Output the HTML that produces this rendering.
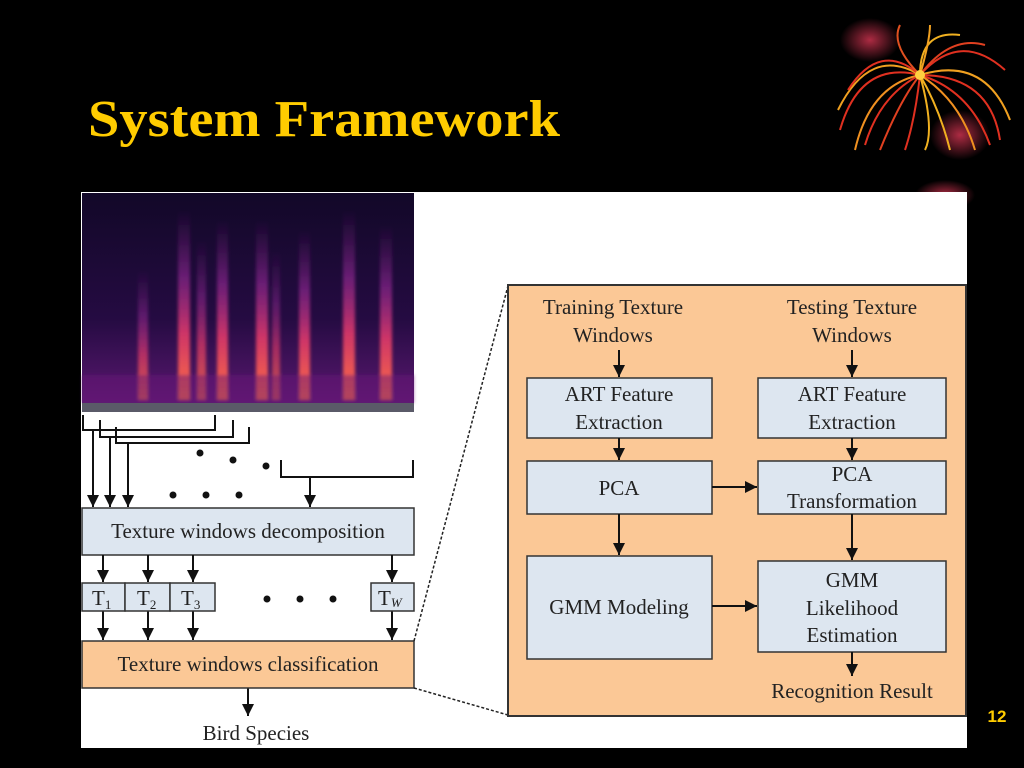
<!DOCTYPE html>
<html><head><meta charset="utf-8"><style>
html,body{margin:0;padding:0;background:#000;}
svg{display:block;}
text{font-family:"Liberation Serif",serif;fill:#222;}
</style></head><body>
<svg width="1024" height="768" viewBox="0 0 1024 768" xmlns="http://www.w3.org/2000/svg">
<defs>
<marker id="ah" viewBox="0 0 10 10" refX="10" refY="5" markerWidth="14" markerHeight="12" orient="auto" markerUnits="userSpaceOnUse">
<path d="M0,0 L10,5 L0,10 z" fill="#111"/></marker>
<radialGradient id="glow" cx="50%" cy="50%" r="50%"><stop offset="0" stop-color="#c0304a" stop-opacity="0.9"/><stop offset="1" stop-color="#c0304a" stop-opacity="0"/></radialGradient>
<linearGradient id="spec" x1="0" y1="0" x2="0" y2="1"><stop offset="0" stop-color="#120828"/><stop offset="0.6" stop-color="#250b42"/><stop offset="1" stop-color="#5a1870"/></linearGradient>
<linearGradient id="col" x1="0" y1="0" x2="0" y2="1"><stop offset="0" stop-color="#7a2080" stop-opacity="0"/><stop offset="0.35" stop-color="#9a2a9a" stop-opacity="0.6"/><stop offset="0.65" stop-color="#e03a6a" stop-opacity="0.9"/><stop offset="1" stop-color="#ff7040" stop-opacity="1"/></linearGradient>
<filter id="bl"><feGaussianBlur stdDeviation="1.5"/></filter>
</defs>
<rect width="1024" height="768" fill="#000"/>
<ellipse cx="870" cy="40" rx="30" ry="22" fill="url(#glow)"/>
<ellipse cx="960" cy="135" rx="30" ry="25" fill="url(#glow)"/>
<ellipse cx="945" cy="195" rx="30" ry="15" fill="url(#glow)"/>
<g fill="none" stroke-width="2">
<path d="M920,75 Q860,60 840,130" stroke="#e03020"/>
<path d="M920,75 Q870,45 838,110" stroke="#f0a020"/>
<path d="M920,75 Q880,40 848,90" stroke="#e03020"/>
<path d="M920,75 Q960,30 1005,70" stroke="#e03020"/>
<path d="M920,75 Q985,55 1010,120" stroke="#f0a020"/>
<path d="M920,75 Q990,75 1000,140" stroke="#e03020"/>
<path d="M920,75 Q900,100 880,150" stroke="#e04020"/>
<path d="M920,75 Q940,110 950,150" stroke="#f0b020"/>
<path d="M920,75 Q970,90 990,145" stroke="#e03020"/>
<path d="M920,75 Q960,100 975,150" stroke="#f09020"/>
<path d="M920,75 Q870,85 855,150" stroke="#f09020"/>
<path d="M920,75 Q880,95 865,145" stroke="#e03020"/>
<path d="M920,75 Q920,30 960,35" stroke="#f0b020"/>
<path d="M920,75 Q890,45 900,25" stroke="#e05020"/>
<path d="M920,75 Q915,120 905,150" stroke="#e03020"/>
<path d="M920,75 Q930,40 930,25" stroke="#f0a020"/>
<path d="M920,75 Q950,35 985,45" stroke="#e04020"/>
<path d="M920,75 Q935,130 925,150" stroke="#f0b020"/>
</g>
<circle cx="920" cy="75" r="5" fill="#ffd040"/>
<text x="88" y="136" font-size="52" font-weight="bold" style="fill:#ffcc00" textLength="472" lengthAdjust="spacingAndGlyphs">System Framework</text>
<rect x="81" y="192" width="886" height="556" fill="#fff"/>
<rect x="82" y="193" width="332" height="210" fill="url(#spec)"/>
<g filter="url(#bl)">
<rect x="138" y="270" width="10" height="130" fill="url(#col)" opacity="0.8"/>
<rect x="178" y="210" width="12" height="190" fill="url(#col)"/>
<rect x="197" y="240" width="9" height="160" fill="url(#col)" opacity="0.8"/>
<rect x="217" y="220" width="11" height="180" fill="url(#col)"/>
<rect x="256" y="220" width="12" height="180" fill="url(#col)"/>
<rect x="272" y="250" width="8" height="150" fill="url(#col)" opacity="0.7"/>
<rect x="299" y="230" width="11" height="170" fill="url(#col)"/>
<rect x="343" y="210" width="12" height="190" fill="url(#col)"/>
<rect x="380" y="225" width="12" height="175" fill="url(#col)"/>
<rect x="82" y="375" width="332" height="28" fill="#6a1a78" opacity="0.5"/>
</g>
<rect x="82" y="403" width="332" height="9" fill="#5a5a68"/>
<g stroke="#111" stroke-width="2" fill="none">
<path d="M83,415 V430 H215 V415"/>
<path d="M100,420 V437 H233 V420"/>
<path d="M116,427 V443 H249 V427"/>
<path d="M281,460 V477 H413 V460"/>
<line x1="93" y1="430" x2="93" y2="507" marker-end="url(#ah)"/>
<line x1="110" y1="437" x2="110" y2="507" marker-end="url(#ah)"/>
<line x1="128" y1="443" x2="128" y2="507" marker-end="url(#ah)"/>
<line x1="310" y1="477" x2="310" y2="507" marker-end="url(#ah)"/>
</g>
<g fill="#111">
<circle cx="200" cy="453" r="3.5"/><circle cx="233" cy="460" r="3.5"/><circle cx="266" cy="466" r="3.5"/>
<circle cx="173" cy="495" r="3.5"/><circle cx="206" cy="495" r="3.5"/><circle cx="239" cy="495" r="3.5"/>
<circle cx="267" cy="599" r="3.5"/><circle cx="300" cy="599" r="3.5"/><circle cx="333" cy="599" r="3.5"/>
</g>
<rect x="82" y="508" width="332" height="47" fill="#dde6f0" stroke="#333" stroke-width="1.5"/>
<text x="248" y="538" font-size="21" text-anchor="middle">Texture windows decomposition</text>
<g stroke="#111" stroke-width="2">
<line x1="103" y1="555" x2="103" y2="582" marker-end="url(#ah)"/>
<line x1="148" y1="555" x2="148" y2="582" marker-end="url(#ah)"/>
<line x1="193" y1="555" x2="193" y2="582" marker-end="url(#ah)"/>
<line x1="392" y1="555" x2="392" y2="582" marker-end="url(#ah)"/>
<line x1="103" y1="611" x2="103" y2="640" marker-end="url(#ah)"/>
<line x1="148" y1="611" x2="148" y2="640" marker-end="url(#ah)"/>
<line x1="193" y1="611" x2="193" y2="640" marker-end="url(#ah)"/>
<line x1="392" y1="611" x2="392" y2="640" marker-end="url(#ah)"/>
<line x1="248" y1="688" x2="248" y2="716" marker-end="url(#ah)"/>
</g>
<g fill="#dde6f0" stroke="#333" stroke-width="1.5">
<rect x="82" y="583" width="43" height="28"/><rect x="125" y="583" width="45" height="28"/><rect x="170" y="583" width="45" height="28"/><rect x="371" y="583" width="43" height="28"/>
</g>
<g font-size="21">
<text x="92" y="605">T<tspan font-size="13" dy="4">1</tspan></text>
<text x="137" y="605">T<tspan font-size="13" dy="4">2</tspan></text>
<text x="181" y="605">T<tspan font-size="13" dy="4">3</tspan></text>
<text x="378" y="605">T<tspan font-size="13" font-style="italic" dy="2">W</tspan></text>
</g>
<rect x="82" y="641" width="332" height="47" fill="#fbc896" stroke="#333" stroke-width="1.5"/>
<text x="248" y="671" font-size="21" text-anchor="middle">Texture windows classification</text>
<text x="256" y="740" font-size="21" text-anchor="middle">Bird Species</text>
<g stroke="#222" stroke-width="1.5" stroke-dasharray="3,2">
<line x1="414" y1="641" x2="508" y2="286"/>
<line x1="414" y1="688" x2="508" y2="715"/>
</g>
<rect x="508" y="285" width="458" height="431" fill="#fbc896" stroke="#333" stroke-width="2"/>
<g font-size="21" text-anchor="middle">
<text x="613" y="314">Training Texture</text><text x="613" y="342">Windows</text>
<text x="852" y="314">Testing Texture</text><text x="852" y="342">Windows</text>
</g>
<g fill="#dde6f0" stroke="#333" stroke-width="1.5">
<rect x="527" y="378" width="185" height="60"/>
<rect x="758" y="378" width="188" height="60"/>
<rect x="527" y="461" width="185" height="53"/>
<rect x="758" y="461" width="188" height="53"/>
<rect x="527" y="556" width="185" height="103"/>
<rect x="758" y="561" width="188" height="91"/>
</g>
<g font-size="21" text-anchor="middle">
<text x="619" y="401">ART Feature</text><text x="619" y="429">Extraction</text>
<text x="852" y="401">ART Feature</text><text x="852" y="429">Extraction</text>
<text x="619" y="495">PCA</text>
<text x="852" y="481">PCA</text><text x="852" y="508">Transformation</text>
<text x="619" y="614">GMM Modeling</text>
<text x="852" y="587">GMM</text><text x="852" y="615">Likelihood</text><text x="852" y="642">Estimation</text>
<text x="852" y="698">Recognition Result</text>
</g>
<g stroke="#111" stroke-width="2">
<line x1="619" y1="350" x2="619" y2="377" marker-end="url(#ah)"/>
<line x1="852" y1="350" x2="852" y2="377" marker-end="url(#ah)"/>
<line x1="619" y1="438" x2="619" y2="460" marker-end="url(#ah)"/>
<line x1="852" y1="438" x2="852" y2="460" marker-end="url(#ah)"/>
<line x1="712" y1="487" x2="757" y2="487" marker-end="url(#ah)"/>
<line x1="619" y1="514" x2="619" y2="555" marker-end="url(#ah)"/>
<line x1="852" y1="514" x2="852" y2="560" marker-end="url(#ah)"/>
<line x1="712" y1="606" x2="757" y2="606" marker-end="url(#ah)"/>
<line x1="852" y1="652" x2="852" y2="676" marker-end="url(#ah)"/>
</g>
<text x="997" y="722" font-size="17" font-weight="bold" text-anchor="middle" style="fill:#ffcc00;font-family:'Liberation Sans',sans-serif">12</text>
</svg>
</body></html>
